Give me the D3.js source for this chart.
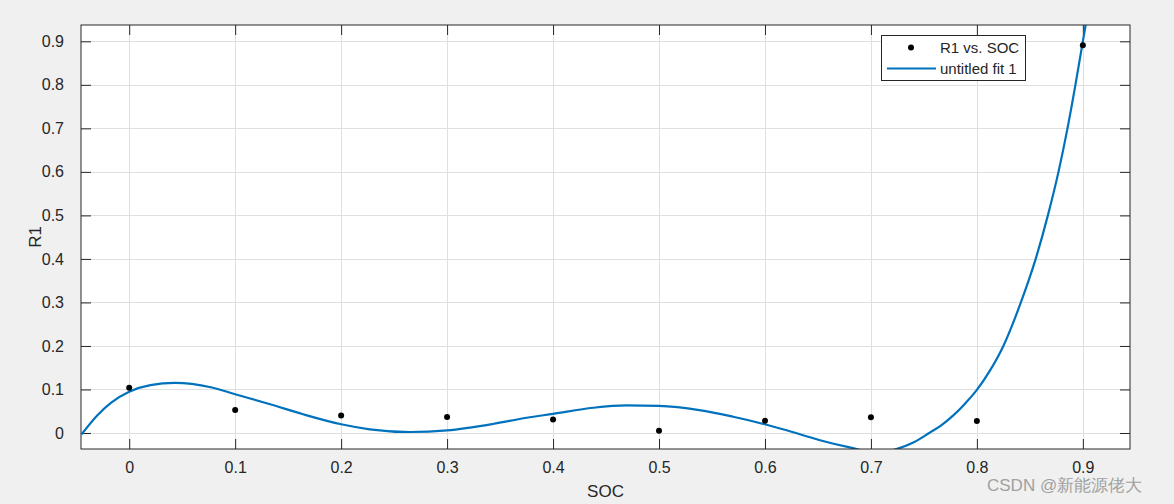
<!DOCTYPE html>
<html lang="en">
	<head>
		<meta charset="utf-8">
		<title>R1 vs. SOC</title>
		<script src="https://d3js.org/d3.v7.min.js"></script>
		<style type="text/css">
			body {
				margin: 0;
				background: #f0f0f0;
			}
			text {
				font-family: "Liberation Sans", Arial, Helvetica, sans-serif;
				fill: #262626;
			}
		</style>
	</head>
	<body>
		<div id="chart"></div>
		<script type="text/javascript">

			//Measured data
			var socValues = [0, 0.1, 0.2, 0.3, 0.4, 0.5, 0.6, 0.7, 0.8, 0.9];
			var r1Values = [0.104, 0.053, 0.040, 0.037, 0.031, 0.0053, 0.028, 0.036, 0.0275, 0.891];

			//Fit curve
			var fitSoc = [-0.045, -0.03, -0.017, 0, 0.02, 0.043, 0.077, 0.1, 0.133, 0.164, 0.2, 0.227, 0.265, 0.3,
						  0.343, 0.375, 0.4, 0.438, 0.469, 0.5, 0.538, 0.57, 0.6, 0.633, 0.651, 0.68, 0.706, 0.724,
						  0.74, 0.755, 0.766, 0.778, 0.789, 0.8, 0.812, 0.825, 0.8415, 0.8555, 0.867, 0.877, 0.8855, 0.893, 0.9, 0.907];
			var fitR1 = [-0.003, 0.041, 0.070, 0.095, 0.110, 0.115, 0.105, 0.089, 0.066, 0.043, 0.020, 0.0085, 0.0023, 0.006,
						 0.0206, 0.035, 0.044, 0.058, 0.0634, 0.0622, 0.0526, 0.0373, 0.020, -0.003, -0.016, -0.033, -0.045, -0.037,
						 -0.022, 0.0, 0.017, 0.041, 0.068, 0.099, 0.142, 0.2, 0.3, 0.4, 0.5, 0.6, 0.7, 0.8, 0.9, 1.0];

			var xTicks = [0, 0.1, 0.2, 0.3, 0.4, 0.5, 0.6, 0.7, 0.8, 0.9];
			var yTicks = [0, 0.1, 0.2, 0.3, 0.4, 0.5, 0.6, 0.7, 0.8, 0.9];

			var w = 1174;
			var h = 504;
			var plotL = 81, plotR = 1130, plotT = 25, plotB = 449;

			var xScale = d3.scaleLinear()
							.domain([-0.0455, 0.9445])
							.range([plotL, plotR]);

			var yScale = d3.scaleLinear()
							.domain([-0.0368, 0.9375])
							.range([plotB, plotT]);

			var svg = d3.select("#chart")
						.append("svg")
						.attr("width", w)
						.attr("height", h)
						.style("display", "block");

			svg.append("rect")
				.attr("width", w)
				.attr("height", h)
				.attr("fill", "#f0f0f0");

			//Plot area
			svg.append("rect")
				.attr("x", plotL)
				.attr("y", plotT)
				.attr("width", plotR - plotL)
				.attr("height", plotB - plotT)
				.attr("fill", "white");

			svg.append("clipPath")
				.attr("id", "plotclip")
				.append("rect")
				.attr("x", plotL)
				.attr("y", plotT)
				.attr("width", plotR - plotL)
				.attr("height", plotB - plotT);

			//Grid
			svg.selectAll(".gx")
				.data(xTicks)
				.enter()
				.append("line")
				.attr("x1", function(d) { return Math.round(xScale(d)) + 0.5; })
				.attr("x2", function(d) { return Math.round(xScale(d)) + 0.5; })
				.attr("y1", plotT)
				.attr("y2", plotB)
				.attr("stroke", "#dfdfdf")
				.attr("stroke-width", 1);

			svg.selectAll(".gy")
				.data(yTicks)
				.enter()
				.append("line")
				.attr("x1", plotL)
				.attr("x2", plotR)
				.attr("y1", function(d) { return Math.round(yScale(d)) + 0.5; })
				.attr("y2", function(d) { return Math.round(yScale(d)) + 0.5; })
				.attr("stroke", "#dfdfdf")
				.attr("stroke-width", 1);

			//Axes (ticks point inward, box on all sides)
			var tickLen = 10;
			svg.append("g")
				.attr("transform", "translate(0," + plotB + ")")
				.call(d3.axisBottom(xScale).tickValues(xTicks).tickSize(-tickLen).tickPadding(13).tickFormat(d3.format("")))
				.call(function(g) { g.select(".domain").remove(); });

			svg.append("g")
				.attr("transform", "translate(0," + plotT + ")")
				.call(d3.axisTop(xScale).tickValues(xTicks).tickSize(-tickLen).tickFormat(""))
				.call(function(g) { g.select(".domain").remove(); });

			svg.append("g")
				.attr("transform", "translate(" + plotL + ",0)")
				.call(d3.axisLeft(yScale).tickValues(yTicks).tickSize(-tickLen).tickPadding(17).tickFormat(d3.format("")))
				.call(function(g) { g.select(".domain").remove(); });

			svg.append("g")
				.attr("transform", "translate(" + plotR + ",0)")
				.call(d3.axisRight(yScale).tickValues(yTicks).tickSize(-tickLen).tickFormat(""))
				.call(function(g) { g.select(".domain").remove(); });

			svg.selectAll(".tick line")
				.attr("stroke", "#262626");

			svg.selectAll(".tick text")
				.attr("font-size", "16px")
				.attr("font-family", "Liberation Sans, Arial, sans-serif")
				.attr("fill", "#262626");

			//Fit curve
			var fitData = fitSoc.map(function(d, i) { return [d, fitR1[i]]; });
			var line = d3.line()
						.x(function(d) { return xScale(d[0]); })
						.y(function(d) { return yScale(d[1]); })
						.curve(d3.curveMonotoneX);

			svg.append("path")
				.datum(fitData)
				.attr("clip-path", "url(#plotclip)")
				.attr("d", line)
				.attr("fill", "none")
				.attr("stroke", "#0072bd")
				.attr("stroke-width", 2.2);

			//Data points
			svg.selectAll(".pt")
				.data(socValues)
				.enter()
				.append("circle")
				.attr("cx", function(d) { return xScale(d); })
				.attr("cy", function(d, i) { return yScale(r1Values[i]); })
				.attr("r", 3)
				.attr("fill", "black");

			//Box
			svg.append("rect")
				.attr("x", plotL)
				.attr("y", plotT)
				.attr("width", plotR - plotL)
				.attr("height", plotB - plotT)
				.attr("fill", "none")
				.attr("stroke", "#262626")
				.attr("stroke-width", 1);

			//Axis labels
			svg.append("text")
				.attr("x", (plotL + plotR) / 2)
				.attr("y", 497)
				.attr("text-anchor", "middle")
				.attr("font-size", "17px")
				.text("SOC");

			svg.append("text")
				.attr("transform", "translate(41," + ((plotT + plotB) / 2) + ") rotate(-90)")
				.attr("text-anchor", "middle")
				.attr("font-size", "17px")
				.text("R1");

			//Legend
			var legend = svg.append("g");
			legend.append("rect")
				.attr("x", 881.5)
				.attr("y", 35.5)
				.attr("width", 144)
				.attr("height", 45)
				.attr("fill", "white")
				.attr("stroke", "#262626")
				.attr("stroke-width", 1);

			legend.append("circle")
				.attr("cx", 911)
				.attr("cy", 47.5)
				.attr("r", 3)
				.attr("fill", "black");

			legend.append("text")
				.attr("x", 940)
				.attr("y", 53)
				.attr("font-size", "15px")
				.text("R1 vs. SOC");

			legend.append("line")
				.attr("x1", 887)
				.attr("x2", 936)
				.attr("y1", 68.5)
				.attr("y2", 68.5)
				.attr("stroke", "#0072bd")
				.attr("stroke-width", 2.2);

			legend.append("text")
				.attr("x", 940)
				.attr("y", 74)
				.attr("font-size", "15px")
				.text("untitled fit 1");

			//Watermark
			svg.append("text")
				.attr("x", 987)
				.attr("y", 491)
				.attr("font-size", "17px")
				.attr("font-family", "Noto Sans CJK SC, sans-serif")
				.style("fill", "#a0a0a0")
				.text("CSDN @新能源佬大");

		</script>
	</body>
</html>
